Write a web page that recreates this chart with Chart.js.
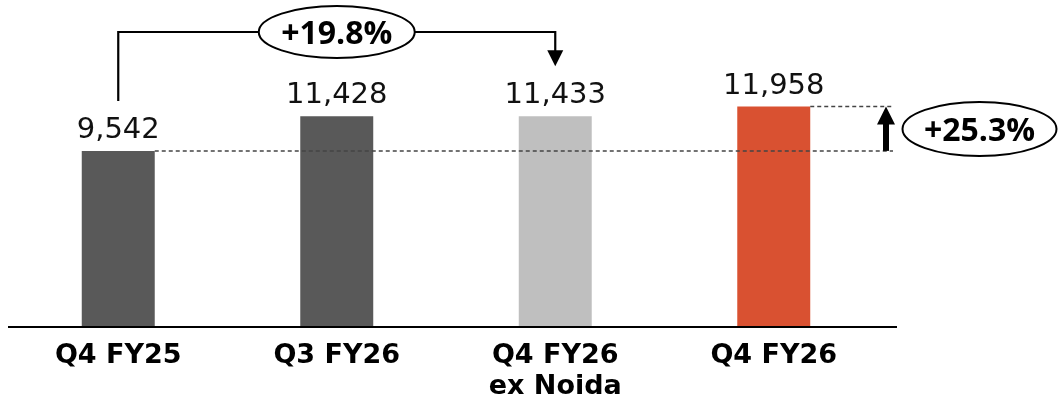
<!DOCTYPE html>
<html>
<head>
<meta charset="utf-8">
<script src="https://cdn.jsdelivr.net/npm/chart.js@4.4.1/dist/chart.umd.min.js"></script>
<style>
  html, body { margin: 0; padding: 0; background: #fff; }
  #wrap { width: 1058px; height: 399px; }
</style>
</head>
<body>
<div id="wrap"><canvas id="chart" width="1058" height="399"></canvas></div>
<script>
// chart data
const categories = [['Q4 FY25'], ['Q3 FY26'], ['Q4 FY26', 'ex Noida'], ['Q4 FY26']];
const revenue = [9542, 11428, 11433, 11958];
const barColors = ['#595959', '#595959', '#bfbfbf', '#d95131'];
const growthLabels = ['+19.8%', '+25.3%'];

// white ellipse with bold percentage inside
function ellipseLabel(ctx, cx, cy, rx, ry, text) {
  ctx.beginPath();
  ctx.ellipse(cx, cy, rx, ry, 0, 0, Math.PI * 2);
  ctx.fillStyle = '#fff';
  ctx.fill();
  ctx.lineWidth = 2;
  ctx.strokeStyle = '#000';
  ctx.stroke();
  ctx.fillStyle = '#000';
  ctx.font = 'bold 32px "Open Sans"';
  ctx.textAlign = 'center';
  ctx.textBaseline = 'alphabetic';
  ctx.fillText(text, cx, cy + 12);
}

const valueLabels = {
  id: 'valueLabels',
  afterDatasetsDraw(chart) {
    const ctx = chart.ctx;
    const bars = chart.getDatasetMeta(0).data;
    ctx.save();
    ctx.font = '29px "DejaVu Sans"';
    ctx.fillStyle = '#111';
    ctx.textAlign = 'center';
    ctx.textBaseline = 'alphabetic';
    bars.forEach((bar, i) => {
      ctx.fillText(revenue[i].toLocaleString('en-US'), bar.x, bar.y - 13);
    });
    ctx.restore();
  }
};

const annotations = {
  id: 'annotations',
  afterDatasetsDraw(chart) {
    const ctx = chart.ctx;
    const bars = chart.getDatasetMeta(0).data;
    const yScale = chart.scales.y;
    const area = chart.chartArea;
    ctx.save();

    // baseline
    ctx.strokeStyle = '#000';
    ctx.lineWidth = 2.2;
    ctx.beginPath();
    ctx.moveTo(8, area.bottom + 1);
    ctx.lineTo(897, area.bottom + 1);
    ctx.stroke();

    // bracket Q4 FY25 -> Q4 FY26 ex Noida
    const topY = 32;
    ctx.lineWidth = 2.2;
    ctx.beginPath();
    ctx.moveTo(bars[0].x, bars[0].y - 50);
    ctx.lineTo(bars[0].x, topY);
    ctx.lineTo(bars[2].x, topY);
    ctx.lineTo(bars[2].x, bars[2].y - 64);
    ctx.stroke();
    ctx.fillStyle = '#000';
    ctx.beginPath();
    ctx.moveTo(bars[2].x - 8, bars[2].y - 66);
    ctx.lineTo(bars[2].x + 8, bars[2].y - 66);
    ctx.lineTo(bars[2].x, bars[2].y - 50);
    ctx.closePath();
    ctx.fill();
    ellipseLabel(ctx, bars[1].x, topY, 78, 26, growthLabels[0]);

    // dashed reference lines
    const yBase = yScale.getPixelForValue(revenue[0]);
    const yLast = yScale.getPixelForValue(revenue[3]);
    const xEnd = 893;
    ctx.setLineDash([4, 3]);
    ctx.lineWidth = 1.5;
    ctx.strokeStyle = '#444';
    ctx.beginPath();
    ctx.moveTo(bars[0].x + bars[0].width / 2, yBase);
    ctx.lineTo(xEnd, yBase);
    ctx.moveTo(bars[3].x + bars[3].width / 2, yLast);
    ctx.lineTo(xEnd, yLast);
    ctx.stroke();
    ctx.setLineDash([]);

    // up arrow
    const ax = 886;
    ctx.fillStyle = '#000';
    ctx.fillRect(ax - 3, yLast + 16, 6, yBase - yLast - 16);
    ctx.beginPath();
    ctx.moveTo(ax - 9, yLast + 18);
    ctx.lineTo(ax + 9, yLast + 18);
    ctx.lineTo(ax, yLast);
    ctx.closePath();
    ctx.fill();
    ellipseLabel(ctx, 979.5, 129, 77, 27, growthLabels[1]);

    ctx.restore();
  }
};

new Chart(document.getElementById('chart'), {
  type: 'bar',
  data: {
    labels: categories,
    datasets: [{
      data: revenue,
      backgroundColor: barColors,
      borderWidth: 0,
      barPercentage: 0.334,
      categoryPercentage: 1
    }]
  },
  options: {
    responsive: false,
    animation: false,
    layout: { padding: { top: 14, left: 9, right: 175, bottom: 0 } },
    plugins: {
      legend: { display: false },
      tooltip: { enabled: false }
    },
    scales: {
      x: {
        grid: { display: false, drawTicks: false },
        border: { display: false },
        ticks: {
          color: '#000',
          font: { family: 'DejaVu Sans', size: 27, weight: 'bold', lineHeight: 1.17 },
          padding: 14,
          maxRotation: 0,
          autoSkip: false
        },
        afterFit(scale) { scale.height = 73; }
      },
      y: {
        display: false,
        min: 0,
        max: 17000
      }
    }
  },
  plugins: [valueLabels, annotations]
});
</script>
</body>
</html>
